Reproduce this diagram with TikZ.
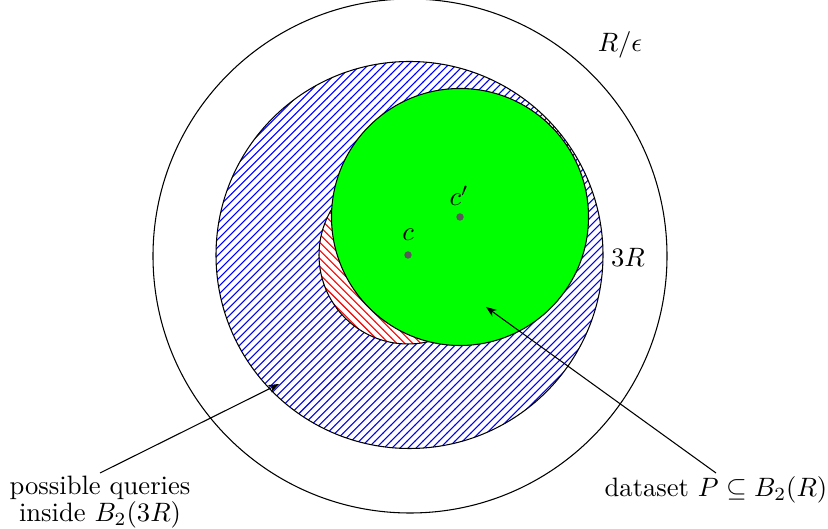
\documentclass[tikz,border=0pt]{standalone}
\usetikzlibrary{patterns,arrows.meta}
\begin{document}
\begin{tikzpicture}[x=0.376pt,y=-0.376pt,
  ring/.style={draw=black},
  dotmark/.style={circle,fill=black!65,inner sep=0pt,minimum size=2.8pt},
  pointer/.style={-{Stealth[length=4pt,width=3pt]}},
  lbl/.style={inner sep=1pt}]
\useasboundingbox (0,0) rectangle (828,529);
\coordinate (O) at (410,256);
\coordinate (C) at (408,255);
\coordinate (Cp) at (460,217);
% outer circle
\draw[ring] (O) circle[radius=257];
% blue hatched circle 3R
\draw[ring,pattern=north east lines,pattern color=blue] (409.5,255) circle[radius=193.5];
% red hatched circle
\draw[ring,preaction={fill=white},pattern=north west lines,pattern color=red] (C) circle[radius=89];
% green circle
\draw[ring,fill={rgb,255:red,0;green,255;blue,0}] (Cp) circle[radius=128.5];
% centers
\node[dotmark] (cdot) at (C) {};
\node[dotmark] (cpdot) at (Cp) {};
\node[lbl] (clab) at (408,235) {$c$};
\node[lbl] (cplab) at (459,196) {$c'$};
% labels
\node[lbl] (reps) at (620,45) {$R/\epsilon$};
\node[lbl] (threeR) at (628,257) {$3R$};
\node[lbl,align=center,anchor=north] (queries) at (100,473) {possible queries\\[-2pt]inside $B_2(3R)$};
\node[lbl,anchor=north] (dataset) at (716,473) {dataset $P\subseteq B_2(R)$};
\coordinate (qend) at (279,384);
\coordinate (dend) at (486,307);
\draw[pointer] (queries.north) -- (qend);
\draw[pointer] (dataset.north) -- (dend);
\end{tikzpicture}
\end{document}
